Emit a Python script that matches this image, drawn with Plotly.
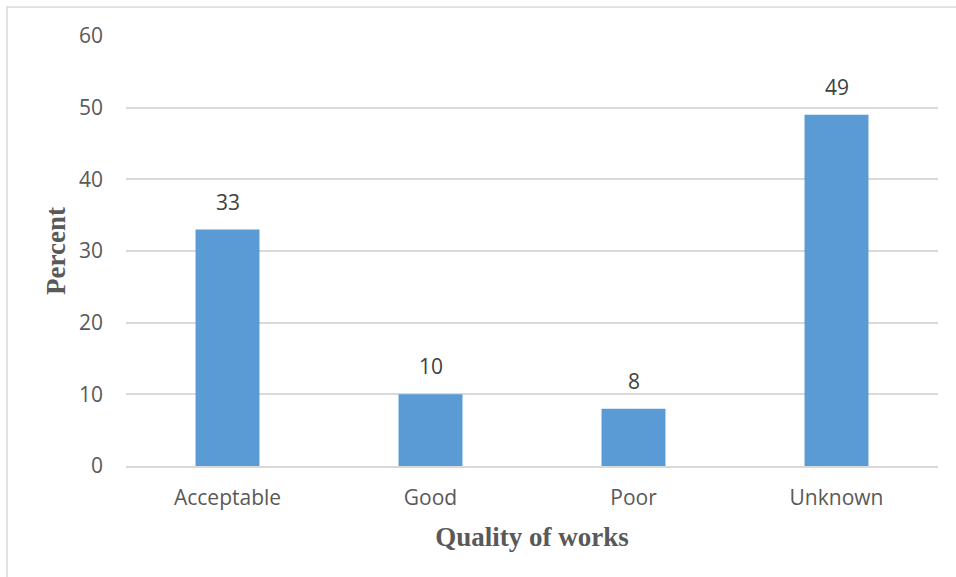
import plotly.graph_objects as go

categories = ["Acceptable", "Good", "Poor", "Unknown"]
values = [33, 10, 8, 49]
y_ticks = [0, 10, 20, 30, 40, 50, 60]

W, H = 956, 577
L, R, T, B = 126, 18, 36, 111
pw, ph = W - L - R, H - T - B

fig = go.Figure()
fig.add_trace(go.Bar(
    x=categories, y=values,
    marker=dict(color="#5B9BD5", line=dict(width=0)),
    cliponaxis=False,
))

for c, v in zip(categories, values):
    fig.add_annotation(
        x=c, y=v, text=str(v), showarrow=False,
        xanchor="center", yanchor="bottom", yshift=12,
        font=dict(family="Open Sans", size=21, color="#404040"),
    )

fig.update_layout(
    width=W, height=H,
    margin=dict(l=L, r=R, t=T, b=B),
    plot_bgcolor="white", paper_bgcolor="white",
    bargap=0.685,
    showlegend=False,
    xaxis=dict(
        showgrid=False, showline=True, linecolor="#d9d9d9", linewidth=1.5,
        ticks="", ticklabelstandoff=12,
        tickfont=dict(family="Open Sans", size=21, color="#595959"),
        title=dict(text="<b>Quality of works</b>", standoff=17,
                   font=dict(family="Liberation Serif", size=27, color="#595959")),
    ),
    yaxis=dict(
        range=[0, 60], tickvals=y_ticks, showgrid=True, gridcolor="#d9d9d9",
        gridwidth=1.5, zeroline=False, showline=False, ticks="",
        ticklabelstandoff=22,
        tickfont=dict(family="Open Sans", size=21, color="#595959"),
        title=dict(text="<b>Percent</b>", standoff=5,
                   font=dict(family="Liberation Serif", size=27, color="#595959")),
    ),
    shapes=[dict(
        type="rect", xref="paper", yref="paper",
        x0=(7 - L) / pw, x1=(W + 5 - L) / pw,
        y0=(H - B - (H + 5)) / ph, y1=(H - B - 7) / ph,
        line=dict(color="#d9d9d9", width=1.5), fillcolor="rgba(0,0,0,0)",
        layer="below",
    )],
)

fig.write_html("out.html")
